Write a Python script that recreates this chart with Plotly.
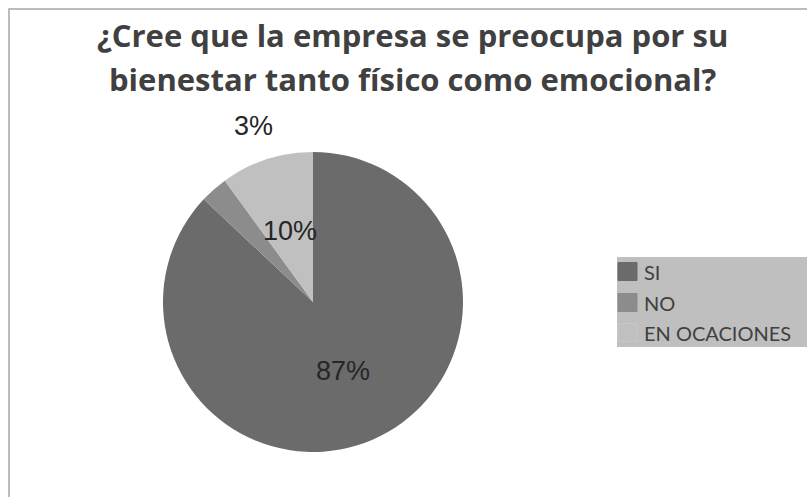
import math
import plotly.graph_objects as go

# Survey answers and their shares (%)
categories = ["SI", "NO", "EN OCACIONES"]
shares = [87, 3, 10]
slice_colors = ["#6b6b6b", "#8c8c8c", "#c0c0c0"]
title_lines = ["¿Cree que la empresa se preocupa por su",
               "bienestar tanto físico como emocional?"]

W, H = 807, 497
cx, cy, r = 313, 302, 150  # pie centre / radius in px


def px_x(x):
    return x / W


def px_y(y):
    return 1 - y / H


fig = go.Figure(go.Pie(
    labels=categories,
    values=shares,
    marker=dict(colors=slice_colors, line=dict(width=0)),
    sort=False,
    direction="clockwise",
    rotation=0,
    textinfo="none",
    hoverinfo="label+percent",
    showlegend=False,
    domain=dict(x=[px_x(cx - r), px_x(cx + r)], y=[px_y(cy + r), px_y(cy - r)]),
))

# Percentage labels placed along each slice's mid-angle
total = sum(shares)
annotations = []
acc = 0
for i, v in enumerate(shares):
    mid = (acc + v / 2) / total * 2 * math.pi
    acc += v
    if v / total < 0.05:
        lx, ly = 253, 126  # small slice: label set outside, above the pie
    else:
        lx = cx + 0.5 * r * math.sin(mid)
        ly = cy - 0.5 * r * math.cos(mid)
    annotations.append(dict(
        x=px_x(lx), y=px_y(ly), xref="paper", yref="paper",
        xanchor="center", yanchor="middle",
        text=f"{v}%", showarrow=False,
        font=dict(family="Liberation Sans, Arial", size=27, color="#262626"),
    ))

# Two-line title
for j, line in enumerate(title_lines):
    annotations.append(dict(
        x=px_x(413), y=px_y(35 + 44 * j), xref="paper", yref="paper",
        xanchor="center", yanchor="middle",
        text=f"<b>{line}</b>", showarrow=False,
        font=dict(family="Open Sans", size=31, color="#404040"),
    ))

shapes = [
    # chart frame (runs past the right and bottom edges)
    dict(type="rect", xref="paper", yref="paper",
         x0=px_x(9), x1=1.05, y0=-0.05, y1=px_y(9),
         line=dict(color="#a6a6a6", width=1.5), fillcolor="rgba(0,0,0,0)", layer="below"),
    # legend panel
    dict(type="rect", xref="paper", yref="paper",
         x0=px_x(617), x1=1.05, y0=px_y(347), y1=px_y(257),
         line=dict(width=0), fillcolor="#bfbfbf", layer="below"),
]

# Legend entries: colour swatch + label
row_y = [271.5, 302.5, 332.5]
for name, col, ry in zip(categories, slice_colors, row_y):
    shapes.append(dict(
        type="rect", xref="paper", yref="paper",
        x0=px_x(618), x1=px_x(637), y0=px_y(ry + 9), y1=px_y(ry - 9),
        line=dict(color="#c8c8c8" if col == "#c0c0c0" else col, width=1),
        fillcolor=col,
    ))
    annotations.append(dict(
        x=px_x(642), y=px_y(ry), xref="paper", yref="paper",
        xanchor="left", yanchor="middle",
        text=name, showarrow=False,
        font=dict(family="Lato", size=20, color="#404040"),
    ))

fig.update_layout(
    width=W, height=H,
    margin=dict(l=0, r=0, t=0, b=0),
    paper_bgcolor="white",
    annotations=annotations,
    shapes=shapes,
    showlegend=False,
)

fig.write_html("out.html")
